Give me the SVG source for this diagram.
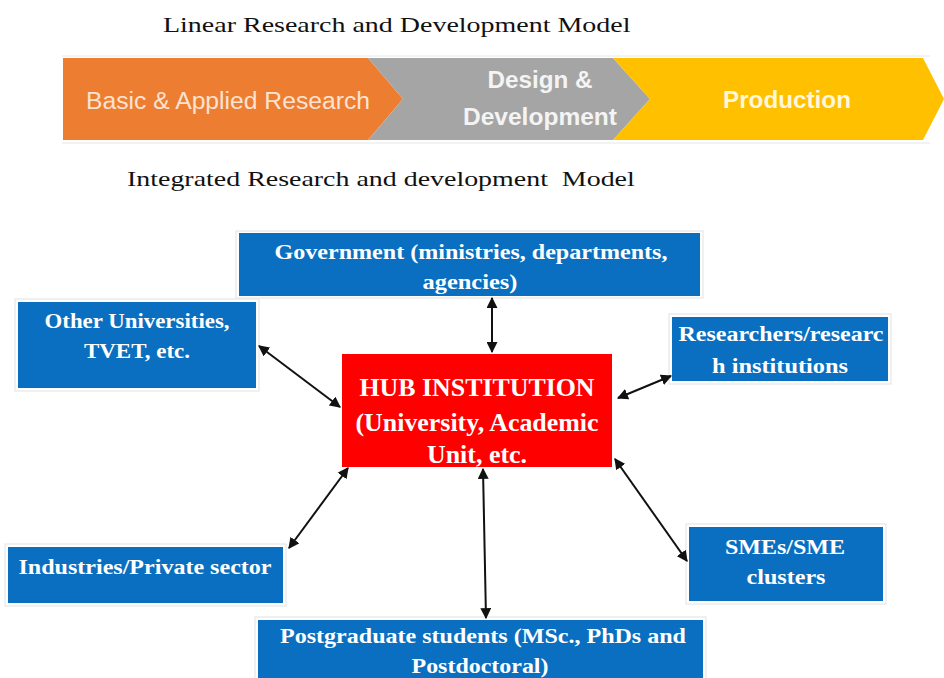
<svg xmlns="http://www.w3.org/2000/svg" width="944" height="678" viewBox="0 0 944 678">
<style>
.title{font-family:"Liberation Serif",serif;font-size:22px;fill:#111}
.chev{font-family:"Liberation Sans",Arial,sans-serif;font-size:23px;text-anchor:middle}
.box{fill:#0a6fc0}
.frame{fill:#fff;stroke:#e2e2e2;stroke-width:1}
.bt{font-family:"Liberation Serif",serif;font-weight:bold;font-size:22px;fill:#fff;text-anchor:middle}
.ht{font-family:"Liberation Serif",serif;font-weight:bold;font-size:26px;fill:#fff;text-anchor:middle}
.conn line{stroke:#111;stroke-width:2;marker-start:url(#ah);marker-end:url(#ah)}
</style>
<defs>
<marker id="ah" viewBox="0 0 10 10" refX="9" refY="5" markerWidth="5.5" markerHeight="5.5" orient="auto-start-reverse" markerUnits="strokeWidth">
<path d="M0,0 L10,5 L0,10 z" fill="#111"/>
</marker>
</defs>
<rect width="944" height="678" fill="#fff"/>
<text class="title" transform="translate(163,32) scale(1.272,1)">Linear Research and Development Model</text>
<g id="linear">
<line x1="62" y1="56" x2="930" y2="56" stroke="#e6e6e6"/>
<line x1="62" y1="143" x2="930" y2="143" stroke="#e6e6e6"/>
<g id="basic">
<polygon points="63,58 368,58 403,99 368,140 63,140" fill="#ed7d31"/>
<text class="chev" x="228" y="109" fill="#fbe3d3" textLength="284" lengthAdjust="spacingAndGlyphs">Basic &amp; Applied Research</text>
</g>
<g id="design">
<polygon points="368,58 613,58 650,99 613,140 368,140 403,99" fill="#a5a5a5"/>
<text class="chev" x="540" y="88" fill="#f4f4f4" font-weight="bold" textLength="105" lengthAdjust="spacingAndGlyphs">Design &amp;</text>
<text class="chev" x="540" y="125" fill="#f4f4f4" font-weight="bold" textLength="154" lengthAdjust="spacingAndGlyphs">Development</text>
</g>
<g id="production">
<polygon points="613,58 923,58 944,99 923,140 613,140 650,99" fill="#ffc000"/>
<text class="chev" x="787" y="108" fill="#fff6dc" font-weight="bold" textLength="128" lengthAdjust="spacingAndGlyphs">Production</text>
</g>
</g>
<text class="title" transform="translate(127,186) scale(1.27,1)" xml:space="preserve">Integrated Research and development  Model</text>

<g id="government">
<rect class="frame" x="236" y="231" width="467" height="67"/>
<rect class="box" x="239" y="233" width="461" height="63"/>
<text class="bt" x="471" y="259" textLength="393" lengthAdjust="spacingAndGlyphs">Government (ministries, departments,</text>
<text class="bt" x="470" y="289" textLength="95" lengthAdjust="spacingAndGlyphs">agencies)</text>
</g>
<g id="other-universities">
<rect class="frame" x="15" y="299" width="244" height="92"/>
<rect class="box" x="18" y="302" width="238" height="86"/>
<text class="bt" x="137" y="328" textLength="185" lengthAdjust="spacingAndGlyphs">Other Universities,</text>
<text class="bt" x="137" y="358" textLength="106" lengthAdjust="spacingAndGlyphs">TVET, etc.</text>
</g>
<g id="researchers">
<rect class="frame" x="669" y="314" width="222" height="70"/>
<rect class="box" x="672" y="317" width="216" height="64"/>
<text class="bt" x="781" y="341" textLength="205" lengthAdjust="spacingAndGlyphs">Researchers/researc</text>
<text class="bt" x="780" y="373" textLength="136" lengthAdjust="spacingAndGlyphs">h institutions</text>
</g>
<g id="hub">
<rect x="342" y="354" width="270" height="113" fill="#ff0000"/>
<text class="ht" x="477" y="396" textLength="235" lengthAdjust="spacingAndGlyphs">HUB INSTITUTION</text>
<text class="ht" x="477" y="431" textLength="243" lengthAdjust="spacingAndGlyphs">(University, Academic</text>
<text class="ht" x="477" y="463" textLength="100" lengthAdjust="spacingAndGlyphs">Unit, etc.</text>
</g>
<g id="industries">
<rect class="frame" x="5" y="544" width="281" height="62"/>
<rect class="box" x="8" y="547" width="275" height="56"/>
<text class="bt" x="145" y="574" textLength="253" lengthAdjust="spacingAndGlyphs">Industries/Private sector</text>
</g>
<g id="smes">
<rect class="frame" x="686" y="524" width="200" height="80"/>
<rect class="box" x="689" y="527" width="194" height="74"/>
<text class="bt" x="785" y="554" textLength="120" lengthAdjust="spacingAndGlyphs">SMEs/SME</text>
<text class="bt" x="786" y="584" textLength="79" lengthAdjust="spacingAndGlyphs">clusters</text>
</g>
<g id="postgraduate">
<rect class="frame" x="255" y="617" width="451" height="64"/>
<rect class="box" x="258" y="620" width="445" height="60"/>
<text class="bt" x="483" y="643" textLength="406" lengthAdjust="spacingAndGlyphs">Postgraduate students (MSc., PhDs and</text>
<text class="bt" x="480" y="673" textLength="137" lengthAdjust="spacingAndGlyphs">Postdoctoral)</text>
</g>

<g id="connectors" class="conn">
<line x1="492" y1="298" x2="492" y2="352"/>
<line x1="259" y1="346" x2="340" y2="407"/>
<line x1="671" y1="376" x2="618" y2="398"/>
<line x1="289" y1="548" x2="348" y2="468"/>
<line x1="615" y1="459" x2="687" y2="561"/>
<line x1="483" y1="469" x2="486" y2="618"/>
</g>
</svg>
